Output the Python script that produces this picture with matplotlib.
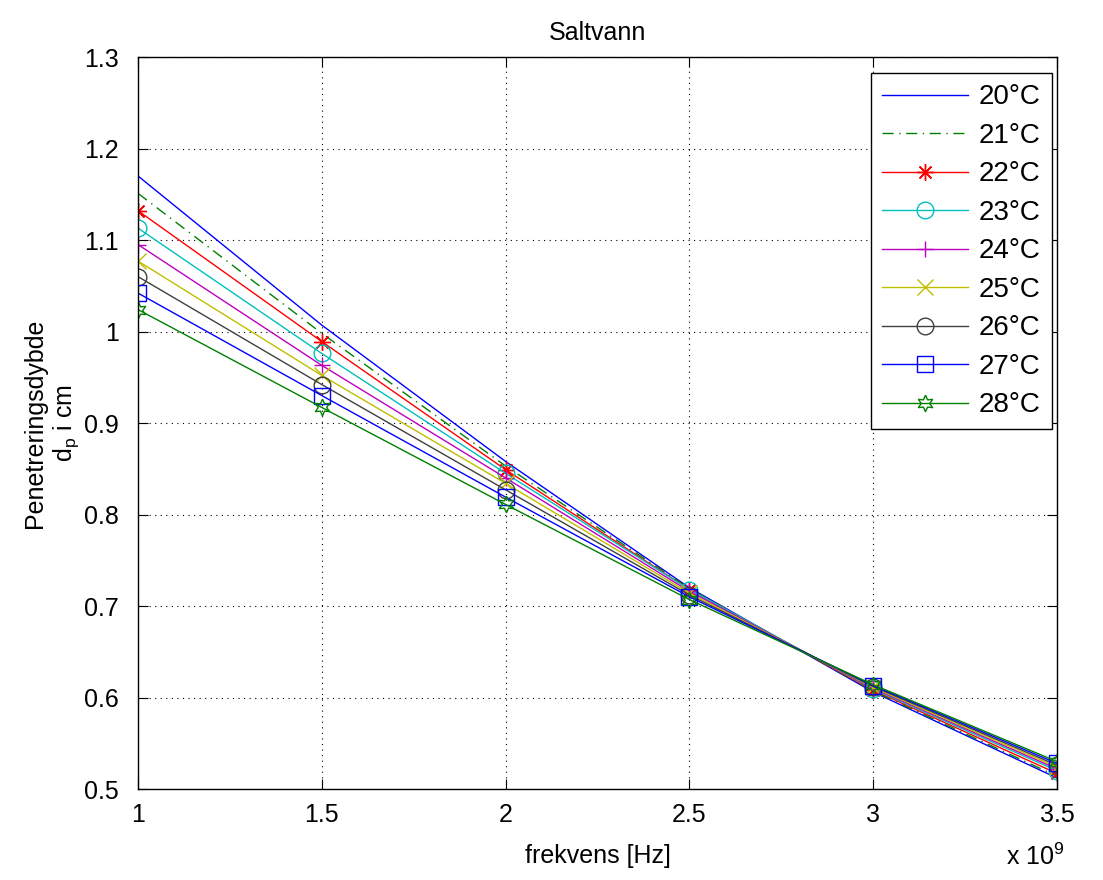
import matplotlib.pyplot as plt

plt.rcParams['font.family'] = ['Liberation Sans', 'DejaVu Sans']

freq = [1.0e9, 1.5e9, 2.0e9, 2.5e9, 3.0e9, 3.5e9]
labels = ['20°C', '21°C', '22°C', '23°C', '24°C', '25°C', '26°C', '27°C', '28°C']
xticks = [1, 1.5, 2, 2.5, 3, 3.5]
xticklabels = ['1', '1.5', '2', '2.5', '3', '3.5']
yticks = [0.5, 0.6, 0.7, 0.8, 0.9, 1.0, 1.1, 1.2, 1.3]
yticklabels = ['0.5', '0.6', '0.7', '0.8', '0.9', '1', '1.1', '1.2', '1.3']

dp_20 = [1.170, 1.007, 0.858, 0.720, 0.606, 0.512]
dp_21 = [1.151, 0.998, 0.853, 0.719, 0.607, 0.514]
dp_22 = [1.132, 0.989, 0.849, 0.718, 0.608, 0.517]
dp_23 = [1.113, 0.976, 0.845, 0.718, 0.609, 0.520]
dp_24 = [1.095, 0.963, 0.840, 0.716, 0.610, 0.522]
dp_25 = [1.077, 0.952, 0.834, 0.714, 0.611, 0.524]
dp_26 = [1.060, 0.942, 0.827, 0.712, 0.612, 0.526]
dp_27 = [1.042, 0.930, 0.819, 0.710, 0.613, 0.528]
dp_28 = [1.024, 0.917, 0.811, 0.707, 0.614, 0.530]
series = [dp_20, dp_21, dp_22, dp_23, dp_24, dp_25, dp_26, dp_27, dp_28]

colors = [(0, 0, 1), (0, 0.5, 0), (1, 0, 0), (0, 0.75, 0.75), (0.75, 0, 0.75),
          (0.75, 0.75, 0), (0.25, 0.25, 0.25), (0, 0, 1), (0, 0.5, 0)]
styles = ['-', (0, (8, 4, 1, 4)), '-', '-', '-', '-', '-', '-', '-']
markers = [None, None, (8, 2, 0), 'o', '+', 'x', 'o', 's', (6, 1, 0)]

fig = plt.figure(figsize=(11.03, 8.8), dpi=100)
ax = fig.add_axes([0.1251, 0.1034, 0.8332, 0.8318])

x = [f / 1e9 for f in freq]
for y, lab, c, ls, m in zip(series, labels, colors, styles, markers):
    ax.plot(x, y, color=c, linestyle=ls, marker=m, markersize=12,
            markerfacecolor='none', markeredgecolor=c, markeredgewidth=1.0,
            linewidth=1.0, label=lab)

ax.set_xlim(1, 3.5)
ax.set_ylim(0.5, 1.3)
ax.set_xticks(xticks)
ax.set_xticklabels(xticklabels)
ax.set_yticks(yticks)
ax.set_yticklabels(yticklabels)
ax.grid(True, linestyle=(0, (1, 4)), color='black', linewidth=0.8)
ax.tick_params(direction='in', top=True, right=True, labelsize=18, length=7)
ax.tick_params(axis='x', pad=10)
ax.tick_params(axis='y', pad=14)
for s in ax.spines.values():
    s.set_linewidth(1.0)

ax.set_title('Saltvann', fontsize=18, pad=12)
ax.set_xlabel('frekvens [Hz]', fontsize=18, labelpad=12)
ax.set_ylabel('Penetreringsdybde\n$\\mathregular{d_p}$ i cm', fontsize=18, labelpad=2)
ax.text(0.976, -0.075, 'x 10$^\\mathregular{9}$', transform=ax.transAxes,
        fontsize=18, ha='center', va='top')

leg = ax.legend(loc='upper right', fontsize=20, frameon=True, fancybox=False,
                edgecolor='black', framealpha=1, handlelength=3.1,
                labelspacing=0.45, borderpad=0.4, handletextpad=0.4,
                borderaxespad=0, bbox_to_anchor=(0.9946, 0.978))
leg.get_frame().set_linewidth(1.0)

fig.savefig('out.png', dpi=100)
